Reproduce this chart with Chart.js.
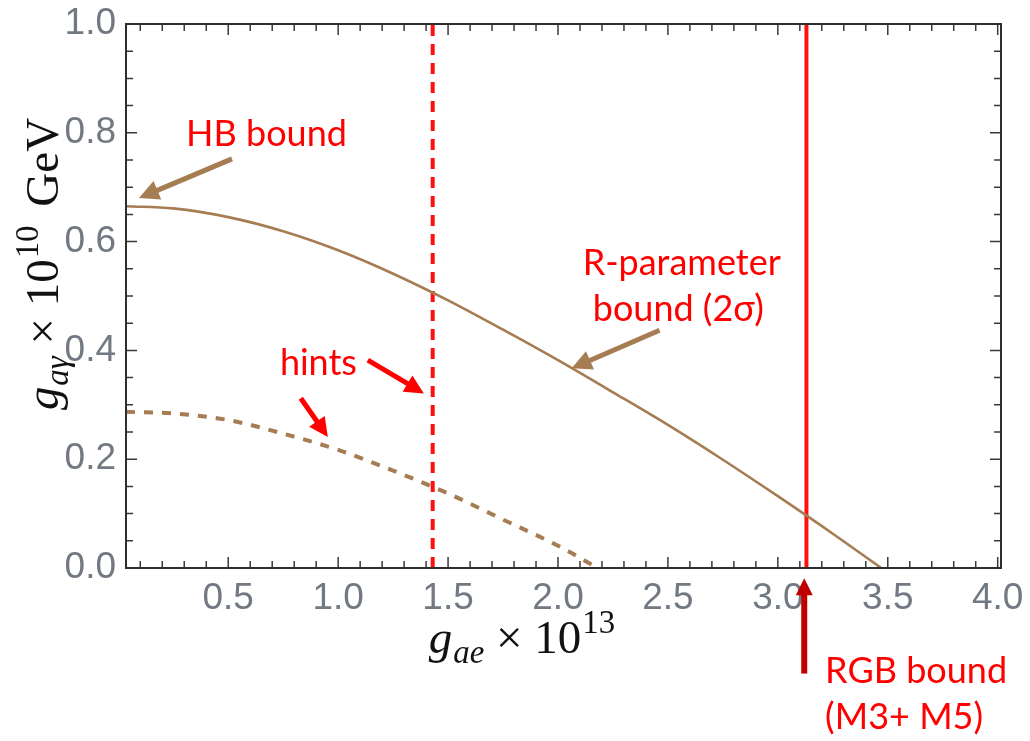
<!DOCTYPE html>
<html>
<head>
<meta charset="utf-8">
<script src="https://cdn.jsdelivr.net/npm/chart.js@4.4.1/dist/chart.umd.min.js"></script>
<style>
  html, body { margin: 0; padding: 0; background: #ffffff; }
  #wrap { width: 1030px; height: 741px; position: relative; }
</style>
</head>
<body>
<div id="wrap"><canvas id="c"></canvas></div>
<script>
// R-parameter bound (2 sigma): solid curve, g_ae x 1e13 vs g_agamma x 1e10 GeV
const boundX = [0.035, 0.25, 0.5, 0.75, 1.0, 1.25, 1.5, 1.75, 2.0, 2.25, 2.5, 2.75, 3.0, 3.25, 3.47];
const boundY = [0.665, 0.661, 0.645, 0.619, 0.584, 0.541, 0.492, 0.438, 0.382, 0.323, 0.263, 0.199, 0.132, 0.063, 0.0];

// hint region: dashed curve
const hintX = [0.035, 0.25, 0.5, 0.75, 1.0, 1.25, 1.5, 1.75, 2.0, 2.18];
const hintY = [0.287, 0.284, 0.272, 0.247, 0.217, 0.179, 0.137, 0.089, 0.041, 0.0];

// vertical lines
const hintLineX = 1.43;   // dashed red: hint on g_ae
const rgbBoundX = 3.13;   // solid red: RGB bound (M3+ M5)

// axes
const xRange = [0.035, 4.015];
const yRange = [0.0, 1.0];
const xMajorTicks = [0.5, 1.0, 1.5, 2.0, 2.5, 3.0, 3.5, 4.0];
const yMajorTicks = [0.0, 0.2, 0.4, 0.6, 0.8, 1.0];
const xMinorStep = 0.1;
const yMinorStep = 0.05;

const BROWN = '#a67c52';
const RED = '#ff1010';
const DARK_RED = '#c00000';

// annotation arrows and labels, placed in data units
const arrows = [
  { from: [0.517, 0.752], to: [0.094, 0.680], color: BROWN, w: 5, head: 20 },
  { from: [2.462, 0.437], to: [2.062, 0.367], color: BROWN, w: 5, head: 20 },
  { from: [1.135, 0.382], to: [1.390, 0.321], color: '#ff0000', w: 5, head: 19 },
  { from: [0.830, 0.312], to: [0.953, 0.241], color: '#ff0000', w: 5, head: 19 },
  { from: [3.120, -0.194], to: [3.120, -0.019], color: DARK_RED, w: 6, head: 17 }
];
const notes = [
  { text: 'HB bound', at: [0.308, 0.776] },
  { text: 'R-parameter', at: [2.112, 0.538] },
  { text: 'bound (2σ)', at: [2.158, 0.454] },
  { text: 'hints', at: [0.735, 0.354] },
  { text: 'RGB bound', at: [3.215, -0.212] },
  { text: '(M3+ M5)', at: [3.215, -0.296] }
];

function pairs(xs, ys) { return xs.map((x, i) => ({ x: x, y: ys[i] })); }
function stepTicks(lo, hi, step) {
  const out = [];
  const n = Math.round((hi - lo) / step);
  for (let i = 0; i <= n; i++) out.push(Math.round((lo + i * step) * 1000) / 1000);
  return out;
}
function isMajor(v, majors) { return majors.some(m => Math.abs(m - v) < 1e-6); }

// frame with inward ticks on all four sides
const framePlugin = {
  id: 'frame',
  afterDatasetsDraw(chart) {
    const { ctx, chartArea: a, scales } = chart;
    ctx.save();
    ctx.strokeStyle = '#3a3a3a';
    ctx.lineWidth = 1.5;
    scales.x.ticks.forEach(t => {
      const px = scales.x.getPixelForValue(t.value);
      const len = isMajor(t.value, xMajorTicks) ? 11 : 7;
      ctx.beginPath();
      ctx.moveTo(px, a.bottom); ctx.lineTo(px, a.bottom - len);
      ctx.moveTo(px, a.top); ctx.lineTo(px, a.top + len);
      ctx.stroke();
    });
    scales.y.ticks.forEach(t => {
      const py = scales.y.getPixelForValue(t.value);
      const len = isMajor(t.value, yMajorTicks) ? 11 : 7;
      ctx.beginPath();
      ctx.moveTo(a.left, py); ctx.lineTo(a.left + len, py);
      ctx.moveTo(a.right, py); ctx.lineTo(a.right - len, py);
      ctx.stroke();
    });
    ctx.lineWidth = 2;
    ctx.strokeStyle = '#2e2e2e';
    ctx.strokeRect(a.left, a.top, a.right - a.left, a.bottom - a.top);
    ctx.restore();
  }
};

// rich text: segments of {t, it, scale, dy, gap}
function richWidth(ctx, segs, size, family) {
  let w = 0;
  segs.forEach(s => {
    ctx.font = (s.it ? 'italic ' : '') + (size * (s.scale || 1)) + 'px ' + family;
    w += (s.gap || 0) * size + (s.t ? ctx.measureText(s.t).width : 0);
  });
  return w;
}
function drawRich(ctx, segs, x, y, size, family) {
  let cx = x;
  segs.forEach(s => {
    ctx.font = (s.it ? 'italic ' : '') + (size * (s.scale || 1)) + 'px ' + family;
    cx += (s.gap || 0) * size;
    if (s.t) {
      ctx.fillText(s.t, cx, y + (s.dy || 0) * size);
      cx += ctx.measureText(s.t).width;
    }
  });
}

const xTitle = [
  { t: 'g', it: true },
  { t: 'ae', it: true, scale: 0.7, dy: 0.22, gap: 0.02 },
  { t: '×', gap: 0.25 },
  { t: '10', gap: 0.25 },
  { t: '13', scale: 0.7, dy: -0.42, gap: 0.02 }
];
const yTitle = [
  { t: 'g', it: true },
  { t: 'aγ', it: true, scale: 0.7, dy: 0.22, gap: 0.02 },
  { t: '×', gap: 0.25 },
  { t: '10', gap: 0.25 },
  { t: '10', scale: 0.7, dy: -0.42, gap: 0.02 },
  { t: 'GeV', gap: 0.4 }
];

const annotatePlugin = {
  id: 'annotate',
  afterDraw(chart) {
    const { ctx, scales } = chart;
    const X = v => scales.x.getPixelForValue(v);
    const Y = v => scales.y.getPixelForValue(v);
    ctx.save();

    // arrows
    arrows.forEach(ar => {
      const x1 = X(ar.from[0]), y1 = Y(ar.from[1]);
      const x2 = X(ar.to[0]), y2 = Y(ar.to[1]);
      const ang = Math.atan2(y2 - y1, x2 - x1);
      const hl = ar.head, hw = ar.head * 0.5;
      const bx = x2 - hl * Math.cos(ang), by = y2 - hl * Math.sin(ang);
      ctx.strokeStyle = ar.color;
      ctx.fillStyle = ar.color;
      ctx.lineWidth = ar.w;
      ctx.lineCap = 'butt';
      ctx.beginPath();
      ctx.moveTo(x1, y1);
      ctx.lineTo(bx + 2 * Math.cos(ang), by + 2 * Math.sin(ang));
      ctx.stroke();
      ctx.beginPath();
      ctx.moveTo(x2, y2);
      ctx.lineTo(bx + hw * Math.sin(ang), by - hw * Math.cos(ang));
      ctx.lineTo(bx - hw * Math.sin(ang), by + hw * Math.cos(ang));
      ctx.closePath();
      ctx.fill();
    });

    // red notes
    ctx.fillStyle = '#ff0000';
    ctx.font = '36px Lato, "Open Sans", sans-serif';
    ctx.textAlign = 'left';
    ctx.textBaseline = 'alphabetic';
    notes.forEach(n => ctx.fillText(n.text, X(n.at[0]), Y(n.at[1])));

    // axis titles
    const fam = '"Liberation Serif", "DejaVu Serif", serif';
    const size = 47;
    ctx.fillStyle = '#111111';
    const wx = richWidth(ctx, xTitle, size, fam);
    drawRich(ctx, xTitle, 522 - wx / 2, 653, size, fam);

    const wy = richWidth(ctx, yTitle, size, fam);
    ctx.translate(58, 264);
    ctx.rotate(-Math.PI / 2);
    drawRich(ctx, yTitle, -wy / 2, 0, size, fam);
    ctx.restore();
  }
};

const tickFont = { family: '"Liberation Sans", Arial, sans-serif', size: 37 };

new Chart(document.getElementById('c'), {
  type: 'line',
  data: {
    datasets: [
      {
        data: pairs(boundX, boundY),
        borderColor: BROWN, borderWidth: 2.6,
        pointRadius: 0, cubicInterpolationMode: 'monotone', fill: false
      },
      {
        data: pairs(hintX, hintY),
        borderColor: BROWN, borderWidth: 4, borderDash: [9, 9],
        pointRadius: 0, cubicInterpolationMode: 'monotone', fill: false
      },
      {
        data: [{ x: hintLineX, y: yRange[0] }, { x: hintLineX, y: yRange[1] }],
        borderColor: RED, borderWidth: 4, borderDash: [11, 8], pointRadius: 0
      },
      {
        data: [{ x: rgbBoundX, y: yRange[0] }, { x: rgbBoundX, y: yRange[1] }],
        borderColor: RED, borderWidth: 4, pointRadius: 0
      }
    ]
  },
  options: {
    responsive: true,
    maintainAspectRatio: false,
    animation: false,
    layout: { padding: { left: 0, top: 24, right: 29, bottom: 0 } },
    plugins: { legend: { display: false }, tooltip: { enabled: false }, title: { display: false } },
    scales: {
      x: {
        type: 'linear',
        min: xRange[0], max: xRange[1],
        afterBuildTicks: s => { s.ticks = stepTicks(0.1, 4.0, xMinorStep).map(v => ({ value: v })); },
        afterFit: s => { s.height = 173; s.paddingLeft = 0; s.paddingRight = 0; },
        grid: { display: false, drawTicks: false },
        border: { display: false },
        ticks: {
          autoSkip: false, maxRotation: 0, minRotation: 0, padding: 9,
          color: '#737983', font: tickFont,
          callback: v => isMajor(v, xMajorTicks) ? v.toFixed(1) : ''
        }
      },
      y: {
        type: 'linear',
        min: yRange[0], max: yRange[1],
        afterBuildTicks: s => { s.ticks = stepTicks(0, 1, yMinorStep).map(v => ({ value: v })); },
        afterFit: s => { s.width = 126; s.paddingTop = 0; s.paddingBottom = 0; },
        grid: { display: false, drawTicks: false },
        border: { display: false },
        ticks: {
          autoSkip: false, padding: 10,
          color: '#737983', font: tickFont,
          callback: v => isMajor(v, yMajorTicks) ? v.toFixed(1) : ''
        }
      }
    }
  },
  plugins: [framePlugin, annotatePlugin]
});
</script>
</body>
</html>
